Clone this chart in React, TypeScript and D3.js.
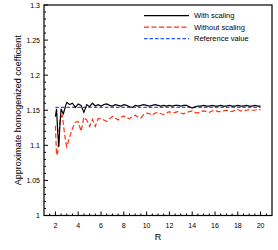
import React from 'react';
import * as d3 from 'd3';

// R values (finer near the start)
const rValues = [
  2, 2.1, 2.2, 2.3, 2.4, 2.5, 2.6, 2.7, 2.8, 2.9,
  3, 3.25, 3.5, 3.75, 4, 4.25, 4.5, 4.75, 5, 5.25, 5.5, 5.75,
  6, 6.25, 6.5, 6.75, 7, 7.25, 7.5, 7.75, 8, 8.25, 8.5, 8.75,
  9, 9.25, 9.5, 9.75, 10, 10.25, 10.5, 10.75, 11, 11.25, 11.5, 11.75,
  12, 12.25, 12.5, 12.75, 13, 13.25, 13.5, 13.75, 14, 14.25, 14.5, 14.75,
  15, 15.25, 15.5, 15.75, 16, 16.25, 16.5, 16.75, 17, 17.25, 17.5, 17.75,
  18, 18.25, 18.5, 18.75, 19, 19.25, 19.5, 19.75, 20,
];

const withScaling = [
  1.141, 1.152, 1.12, 1.098, 1.13, 1.152, 1.148, 1.145, 1.151, 1.157,
  1.161, 1.158, 1.16, 1.154, 1.159, 1.157, 1.147, 1.158, 1.155, 1.16, 1.156, 1.158,
  1.156, 1.158, 1.159, 1.157, 1.156, 1.158, 1.157, 1.156, 1.158, 1.157, 1.155, 1.154,
  1.157, 1.156, 1.157, 1.158, 1.157, 1.156, 1.157, 1.158, 1.157, 1.156, 1.157, 1.156,
  1.157, 1.156, 1.157, 1.157, 1.156, 1.157, 1.157, 1.155, 1.153, 1.155, 1.156, 1.156,
  1.157, 1.156, 1.156, 1.157, 1.156, 1.156, 1.157, 1.156, 1.156, 1.157, 1.156, 1.156,
  1.157, 1.156, 1.156, 1.157, 1.156, 1.156, 1.157, 1.156, 1.156,
];

const withoutScaling = [
  1.128, 1.086, 1.09, 1.115, 1.135, 1.14, 1.143, 1.13, 1.117, 1.105,
  1.098, 1.112, 1.124, 1.133, 1.134, 1.12, 1.14, 1.136, 1.127, 1.137, 1.127, 1.138,
  1.138, 1.136, 1.134, 1.138, 1.141, 1.139, 1.136, 1.14, 1.142, 1.139, 1.138, 1.141,
  1.143, 1.14, 1.139, 1.144, 1.146, 1.145, 1.143, 1.146, 1.147, 1.145, 1.144, 1.146,
  1.148, 1.146, 1.147, 1.148, 1.146, 1.145, 1.147, 1.148, 1.149, 1.147, 1.146, 1.148,
  1.149, 1.148, 1.147, 1.149, 1.15, 1.148, 1.148, 1.149, 1.15, 1.149, 1.148, 1.15,
  1.151, 1.149, 1.149, 1.15, 1.151, 1.15, 1.15, 1.151, 1.151,
];

const referenceValue = 1.154;

const xTicks = [2, 4, 6, 8, 10, 12, 14, 16, 18, 20];
const yTicks = [1, 1.05, 1.1, 1.15, 1.2, 1.25, 1.3];

const legendItems = [
  { label: 'With scaling', color: '#000000', dash: '' },
  { label: 'Without scaling', color: '#ff3010', dash: '5,2.5' },
  { label: 'Reference value', color: '#2a55ff', dash: '3.5,2' },
];

const font = 'Arial, "Liberation Sans", Helvetica, sans-serif';

const App = () => {
  const width = 278;
  const height = 250;
  const left = 44;
  const right = 272;
  const top = 5;
  const bottom = 215.5;

  const x = d3.scaleLinear().domain([1, 21]).range([left, right]);
  const y = d3.scaleLinear().domain([1, 1.3]).range([bottom, top]);

  const xMinor = d3.range(1.5, 21, 0.5).filter((v) => !xTicks.includes(v));
  const yMinor = d3.range(1, 1.3, 0.01).filter(
    (v) => !yTicks.some((t) => Math.abs(t - v) < 1e-6)
  );

  const line = d3
    .line<number>()
    .x((d, i) => x(rValues[i]))
    .y((d) => y(d));

  return (
    <svg
      width={width}
      height={height}
      style={{ position: 'absolute', left: 0, top: 0, background: '#fff' }}
    >
      <rect x={0} y={0} width={width} height={height} fill="#fff" />

      {/* data */}
      <line
        x1={x(2)}
        x2={x(20)}
        y1={y(referenceValue)}
        y2={y(referenceValue)}
        stroke="#2a55ff"
        strokeWidth={1.3}
        strokeDasharray="3.5,2"
      />
      <path
        d={line(withoutScaling) || ''}
        fill="none"
        stroke="#ff3010"
        strokeWidth={1.2}
        strokeDasharray="5,2.5"
      />
      <path
        d={line(withScaling) || ''}
        fill="none"
        stroke="#000"
        strokeWidth={1.2}
      />

      {/* ticks */}
      {xTicks.map((t) => (
        <line key={'xt' + t} x1={x(t)} x2={x(t)} y1={bottom} y2={bottom - 4} stroke="#000" strokeWidth={1} />
      ))}
      {xMinor.map((t) => (
        <line key={'xm' + t} x1={x(t)} x2={x(t)} y1={bottom} y2={bottom - 2} stroke="#000" strokeWidth={1} />
      ))}
      {yTicks.map((t) => (
        <line key={'yt' + t} x1={left} x2={left + 4} y1={y(t)} y2={y(t)} stroke="#000" strokeWidth={1} />
      ))}
      {yMinor.map((t) => (
        <line key={'ym' + t} x1={left} x2={left + 2} y1={y(t)} y2={y(t)} stroke="#000" strokeWidth={1} />
      ))}

      {/* frame */}
      <rect
        x={left}
        y={top}
        width={right - left}
        height={bottom - top}
        fill="none"
        stroke="#000"
        strokeWidth={1.2}
      />

      {/* tick labels */}
      {xTicks.map((t) => (
        <text key={'xl' + t} x={x(t)} y={228} fontSize={7} fontFamily={font} textAnchor="middle" fill="#000">
          {t}
        </text>
      ))}
      {yTicks.map((t) => (
        <text key={'yl' + t} x={40} y={y(t) + 2.5} fontSize={7} fontFamily={font} textAnchor="end" fill="#000">
          {t}
        </text>
      ))}

      {/* axis titles */}
      <text x={(left + right) / 2} y={240} fontSize={9} fontFamily={font} textAnchor="middle" fill="#000">
        R
      </text>
      <text
        transform={`translate(21,${(top + bottom) / 2}) rotate(-90)`}
        fontSize={9}
        fontFamily={font}
        textAnchor="middle"
        fill="#000"
      >
        Approximate homogenized coefficient
      </text>

      {/* legend */}
      {legendItems.map((d, i) => (
        <g key={d.label} transform={`translate(144,${15.7 + i * 11.5})`}>
          <line x1={0} x2={45} y1={0} y2={0} stroke={d.color} strokeWidth={1.2} strokeDasharray={d.dash || undefined} />
          <text x={50} y={2.7} fontSize={7.5} fontFamily={font} fill="#000">
            {d.label}
          </text>
        </g>
      ))}
    </svg>
  );
};

export default App;
